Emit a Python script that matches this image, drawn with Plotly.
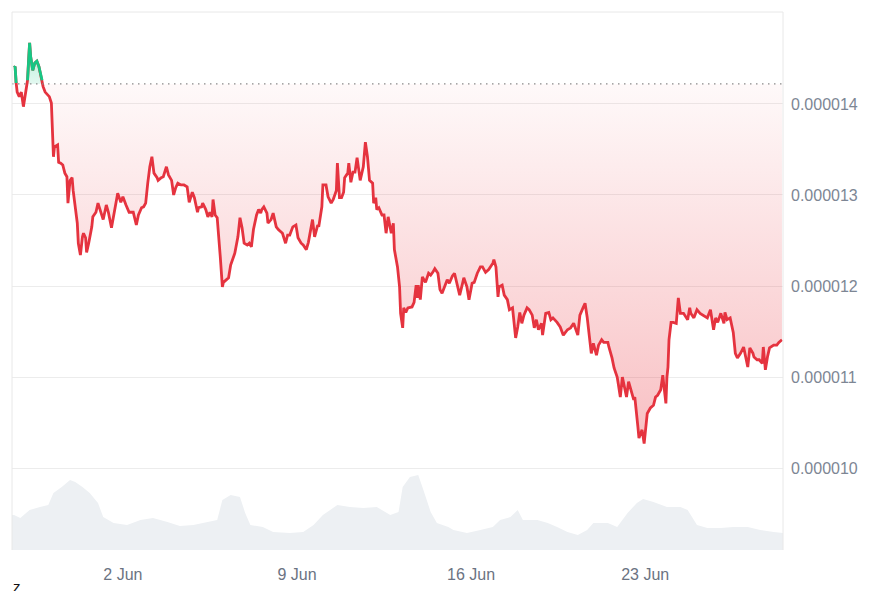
import pandas as pd
import plotly.graph_objects as go

# ---------------- data ----------------
start_time = pd.Timestamp("2024-05-28 15:00")

# (hours since start, price in millionths)
price_series = [
    (0, 14.40), (1, 14.41), (2, 14.23), (3, 14.13), (5, 14.08), (7, 14.13), (9, 13.97), (11, 14.13),
    (13, 14.26), (14, 14.48), (15, 14.67), (16, 14.52), (18, 14.37), (20, 14.45), (22, 14.47), (24, 14.41),
    (27, 14.26), (28, 14.19), (30, 14.13), (32, 14.10), (34, 14.08), (36, 14.01), (37, 13.71), (38, 13.42),
    (39, 13.53), (42, 13.55), (43, 13.36), (45, 13.35), (47, 13.33), (49, 13.24), (51, 13.20), (52, 12.91),
    (54, 13.16), (56, 13.19), (57, 13.05), (59, 12.87), (61, 12.69), (62, 12.47), (64, 12.34), (66, 12.54),
    (67, 12.58), (69, 12.53), (70, 12.37), (72, 12.47), (75, 12.65), (76, 12.76), (79, 12.81), (81, 12.91),
    (84, 12.81), (86, 12.73), (89, 12.89), (91, 12.81), (94, 12.64), (96, 12.76), (98, 12.87), (100, 13.02),
    (103, 12.92), (105, 12.98), (108, 12.89), (111, 12.81), (115, 12.81), (118, 12.67), (120, 12.78), (123, 12.86),
    (125, 12.87), (127, 12.91), (129, 13.13), (131, 13.31), (133, 13.42), (135, 13.24), (138, 13.19), (139, 13.16),
    (142, 13.19), (144, 13.20), (147, 13.31), (149, 13.22), (152, 13.16), (154, 13.00), (156, 13.08), (158, 13.13),
    (161, 13.11), (164, 13.11), (167, 13.09), (169, 12.92), (172, 13.03), (174, 12.97), (177, 12.81), (178, 12.86),
    (181, 12.87), (182, 12.91), (185, 12.84), (187, 12.76), (189, 12.81), (191, 12.76), (192, 12.95), (194, 12.78),
    (196, 12.75), (197, 12.62), (199, 12.32), (201, 11.99), (202, 12.04), (205, 12.07), (207, 12.09), (209, 12.23),
    (210, 12.26), (213, 12.36), (216, 12.54), (218, 12.75), (220, 12.64), (222, 12.47), (225, 12.45), (227, 12.47),
    (229, 12.43), (231, 12.62), (234, 12.78), (236, 12.84), (238, 12.80), (239, 12.84), (241, 12.87), (244, 12.80),
    (245, 12.69), (248, 12.73), (250, 12.80), (253, 12.65), (255, 12.62), (259, 12.58), (262, 12.47), (264, 12.56),
    (266, 12.56), (269, 12.65), (272, 12.67), (274, 12.53), (277, 12.47), (279, 12.45), (282, 12.40), (284, 12.48),
    (288, 12.73), (290, 12.54), (293, 12.67), (294, 12.65), (297, 12.87), (298, 13.11), (301, 13.11), (303, 12.98),
    (306, 12.91), (308, 12.95), (311, 13.05), (312, 13.35), (314, 12.97), (316, 12.97), (318, 13.03), (319, 13.19),
    (322, 13.24), (323, 13.35), (325, 13.14), (327, 13.25), (329, 13.25), (331, 13.41), (334, 13.16), (337, 13.31),
    (339, 13.58), (341, 13.42), (343, 13.16), (346, 13.13), (347, 12.91), (349, 12.97), (350, 12.84), (352, 12.86),
    (355, 12.78), (357, 12.78), (359, 12.58), (361, 12.76), (364, 12.58), (366, 12.69), (367, 12.40), (369, 12.25),
    (370, 12.21), (372, 11.99), (373, 11.70), (375, 11.54), (376, 11.76), (378, 11.71), (380, 11.76), (384, 11.77),
    (386, 11.82), (388, 12.01), (389, 11.87), (390, 12.01), (392, 11.85), (394, 12.10), (397, 12.04), (400, 12.14),
    (402, 12.12), (404, 12.15), (406, 12.19), (409, 12.14), (411, 11.96), (413, 11.92), (415, 11.99), (418, 12.07),
    (420, 12.03), (423, 12.11), (425, 12.14), (428, 12.01), (430, 11.90), (433, 12.04), (434, 12.09), (437, 11.99),
    (439, 11.85), (442, 12.03), (444, 12.04), (447, 12.14), (450, 12.21), (452, 12.21), (455, 12.15), (458, 12.18),
    (460, 12.21), (462, 12.25), (463, 12.29), (465, 12.21), (467, 11.88), (468, 11.99), (471, 12.01), (473, 11.90),
    (476, 11.85), (478, 11.74), (481, 11.76), (482, 11.63), (484, 11.43), (486, 11.55), (488, 11.71), (490, 11.59),
    (492, 11.68), (495, 11.76), (497, 11.74), (500, 11.68), (502, 11.54), (504, 11.63), (506, 11.52), (509, 11.59),
    (510, 11.46), (513, 11.70), (516, 11.71), (518, 11.63), (520, 11.65), (524, 11.60), (527, 11.55), (530, 11.46),
    (534, 11.52), (537, 11.54), (540, 11.59), (544, 11.46), (546, 11.68), (549, 11.76), (551, 11.81), (553, 11.66),
    (555, 11.48), (557, 11.26), (559, 11.37), (562, 11.24), (564, 11.35), (567, 11.41), (569, 11.38), (573, 11.38),
    (574, 11.33), (577, 11.21), (579, 11.10), (582, 11.00), (583, 10.93), (585, 10.78), (587, 11.00), (589, 10.89),
    (591, 10.78), (593, 10.95), (596, 10.82), (598, 10.75), (599, 10.78), (601, 10.60), (602, 10.45), (603, 10.33),
    (606, 10.42), (608, 10.27), (610, 10.49), (611, 10.60), (614, 10.66), (617, 10.69), (619, 10.78), (621, 10.80),
    (624, 10.86), (626, 11.02), (627, 10.91), (629, 10.71), (630, 11.00), (631, 11.11), (632, 11.41), (634, 11.60),
    (636, 11.60), (639, 11.59), (641, 11.87), (643, 11.70), (646, 11.70), (650, 11.63), (652, 11.76), (653, 11.70),
    (656, 11.65), (659, 11.74), (662, 11.70), (665, 11.68), (669, 11.65), (672, 11.74), (675, 11.52), (677, 11.65),
    (679, 11.60), (682, 11.70), (685, 11.59), (686, 11.71), (688, 11.63), (691, 11.65), (694, 11.49), (696, 11.26),
    (698, 11.21), (701, 11.26), (704, 11.33), (706, 11.22), (708, 11.11), (710, 11.32), (713, 11.26), (714, 11.22),
    (717, 11.19), (719, 11.19), (722, 11.15), (723, 11.33), (725, 11.08), (727, 11.22), (729, 11.32), (733, 11.35),
    (736, 11.35), (738, 11.38), (741, 11.41),
]

# (hours since start, relative volume)
volume_series = [
    (-2, 35), (0, 35), (6, 32), (15, 40), (25, 43), (33, 45), (38, 57), (46, 63), (54, 70), (59, 68),
    (66, 63), (73, 57), (81, 47), (86, 33), (96, 27), (109, 25), (122, 30), (134, 32), (148, 28), (160, 24),
    (173, 25), (186, 28), (196, 30), (201, 50), (209, 55), (218, 53), (223, 37), (228, 25), (240, 23), (250, 18),
    (266, 17), (279, 18), (289, 25), (298, 35), (312, 45), (324, 43), (337, 42), (350, 43), (363, 35), (371, 38),
    (375, 63), (382, 73), (390, 75), (395, 60), (402, 38), (408, 27), (419, 23), (424, 20), (437, 17), (450, 20),
    (462, 23), (469, 30), (479, 33), (486, 40), (491, 30), (505, 30), (515, 27), (524, 23), (534, 18), (544, 15),
    (553, 20), (559, 27), (573, 27), (582, 23), (592, 37), (601, 47), (607, 51), (617, 48), (630, 43), (643, 43),
    (650, 40), (659, 25), (669, 22), (682, 22), (694, 23), (708, 23), (720, 20), (733, 18), (742, 17),
]

baseline_micro = 14.22

x_tick_dates = ["2024-06-02", "2024-06-09", "2024-06-16", "2024-06-23"]
x_tick_labels = ["2 Jun", "9 Jun", "16 Jun", "23 Jun"]
y_tick_values = [0.000010, 0.000011, 0.000012, 0.000013, 0.000014]
y_tick_labels = ["0.000010", "0.000011", "0.000012", "0.000013", "0.000014"]

# ---------------- build ----------------
price_hours = [h for h, _ in price_series]
price = [v * 1e-6 for _, v in price_series]
t_price = [start_time + pd.Timedelta(hours=h) for h in price_hours]
base = baseline_micro * 1e-6

vol_hours = [h for h, _ in volume_series]
volume = [v for _, v in volume_series]
t_vol = [start_time + pd.Timedelta(hours=h) for h in vol_hours]

lower = [min(p, base) for p in price]
upper = [max(p, base) for p in price]
base_line = [base] * len(price)

RED = "#e5333f"
GREEN = "#16c784"

red_line = list(price)
green_line = [p if p >= base else None for p in price]

fig = go.Figure()

# volume (behind)
fig.add_trace(go.Scatter(
    x=t_vol, y=volume, yaxis="y2", mode="lines", line=dict(width=0, color="#edf0f3"),
    fill="tozeroy", fillcolor="#edf0f3", hoverinfo="skip", showlegend=False))

# red fill between baseline and price below it
fig.add_trace(go.Scatter(x=t_price, y=base_line, mode="lines", line=dict(width=0),
                         hoverinfo="skip", showlegend=False))
fig.add_trace(go.Scatter(
    x=t_price, y=lower, mode="lines", line=dict(width=0), fill="tonexty",
    fillgradient=dict(type="vertical",
                      colorscale=[[0, "rgba(234,57,67,0.32)"], [1, "rgba(234,57,67,0.03)"]]),
    hoverinfo="skip", showlegend=False))

# green fill above baseline
fig.add_trace(go.Scatter(x=t_price, y=base_line, mode="lines", line=dict(width=0),
                         hoverinfo="skip", showlegend=False))
fig.add_trace(go.Scatter(
    x=t_price, y=upper, mode="lines", line=dict(width=0), fill="tonexty",
    fillgradient=dict(type="vertical",
                      colorscale=[[0, "rgba(22,199,132,0.12)"], [1, "rgba(22,199,132,0.35)"]]),
    hoverinfo="skip", showlegend=False))

# price lines
fig.add_trace(go.Scatter(x=t_price, y=red_line, mode="lines",
                         line=dict(color=RED, width=2.8, shape="linear"), showlegend=False))
fig.add_trace(go.Scatter(x=t_price, y=green_line, mode="lines", connectgaps=False,
                         line=dict(color=GREEN, width=2.8), showlegend=False))

x_start = start_time + pd.Timedelta(hours=-2)
x_end = start_time + pd.Timedelta(hours=742)

# the page body adds an 8px offset, so margins are reduced by 8 on left/top
fig.update_layout(
    width=896, height=591,
    margin=dict(l=4, r=121, t=4, b=49),
    paper_bgcolor="white", plot_bgcolor="white",
    font=dict(family="Liberation Sans, Arial, sans-serif", size=16, color="#7d8694"),
    xaxis=dict(type="date", range=[x_start, x_end], showgrid=False, zeroline=False,
               tickvals=x_tick_dates, ticktext=x_tick_labels, ticks="",
               ticklabelstandoff=13, showline=False,
               tickfont=dict(size=16, color="#6b7382")),
    yaxis=dict(range=[9.10e-6, 15.01e-6], side="right", showgrid=True,
               gridcolor="#ececec", gridwidth=1, zeroline=False,
               tickvals=y_tick_values, ticktext=y_tick_labels, ticks="",
               ticklabelstandoff=7, tickfont=dict(size=16, color="#7d8694")),
    yaxis2=dict(range=[0, 538], overlaying="y", visible=False),
    shapes=[
        dict(type="line", xref="paper", yref="y", x0=0, x1=1, y0=base, y1=base,
             line=dict(color="#8a8a8a", width=1.3, dash="1.5px,4.5px"), layer="above"),
        dict(type="line", xref="paper", yref="paper", x0=0, x1=1, y0=1, y1=1,
             line=dict(color="#e8e8e8", width=1)),
        dict(type="line", xref="paper", yref="paper", x0=0, x1=0, y0=0, y1=1,
             line=dict(color="#e8e8e8", width=1)),
        dict(type="line", xref="paper", yref="paper", x0=1, x1=1, y0=0, y1=1,
             line=dict(color="#e8e8e8", width=1)),
    ],
    annotations=[
        dict(text="z", xref="paper", yref="paper", x=0.0065, y=-0.0483,
             xanchor="center", yanchor="top", showarrow=False,
             font=dict(size=15, color="#111111"))
    ],
)

fig.write_html("out.html")
